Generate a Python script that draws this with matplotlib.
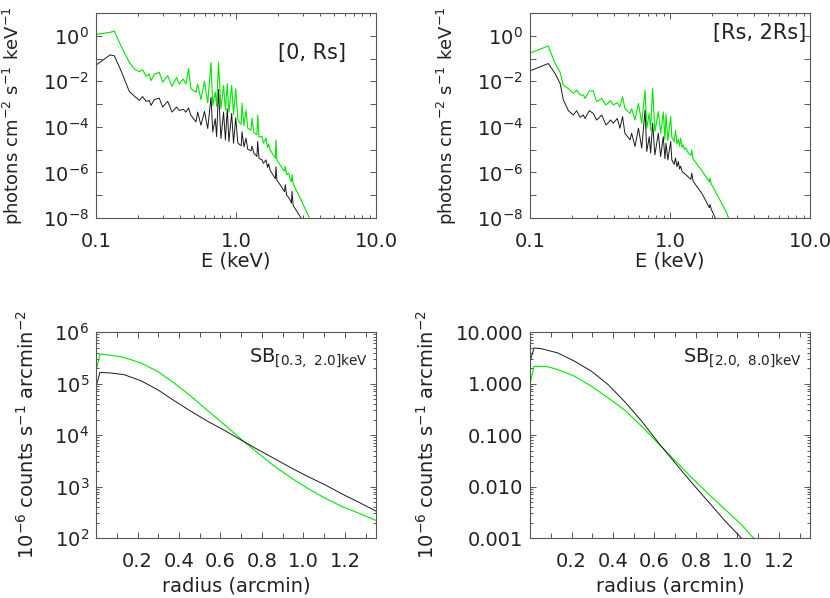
import numpy as np
import matplotlib
matplotlib.use('Agg')
import matplotlib.pyplot as plt
from matplotlib.ticker import FixedLocator, NullLocator, FuncFormatter, LogLocator, MultipleLocator

plt.rcParams['font.family'] = ['DejaVu Sans']
plt.rcParams['mathtext.default'] = 'regular'
plt.rcParams['font.size'] = 14

# ---- spectra, [0, Rs]  (energy in keV, flux given as log10)
tl_energy = [0.100, 0.126, 0.135, 0.151, 0.173, 0.188, 0.204, 0.215, 0.228, 0.240,
             0.247, 0.261, 0.283, 0.299, 0.325, 0.349, 0.376, 0.393, 0.420, 0.439,
             0.458, 0.476, 0.518, 0.532, 0.562, 0.595, 0.628, 0.663, 0.682, 0.711,
             0.727, 0.750, 0.780, 0.815, 0.840, 0.866, 0.890, 0.931, 0.960, 0.995,
             1.03, 1.07, 1.09, 1.104, 1.14, 1.179, 1.212, 1.28, 1.301, 1.34,
             1.41, 1.429, 1.46, 1.534, 1.57, 1.638, 1.68, 1.712, 1.75, 1.91,
             1.93, 1.96, 2.10, 2.22, 2.249, 2.30, 2.378, 2.45, 2.49, 2.512,
             2.56, 2.91, 3.34, 3.60]
tl_green = [0.06, 0.15, 0.20, -0.45, -1.17, -1.46, -1.58, -1.49, -1.78, -1.68,
            -1.97, -1.68, -1.61, -2.04, -1.75, -2.22, -1.83, -2.12, -1.90, -2.12,
            -1.43, -2.33, -2.48, -2.12, -2.80, -2.00, -2.95, -1.17, -3.06, -2.47,
            -3.10, -1.16, -3.20, -2.18, -3.25, -2.11, -3.35, -2.18, -3.45, -2.33,
            -3.65, -3.85, -3.88, -2.97, -3.95, -3.26, -4.05, -4.15, -3.62, -4.25,
            -4.35, -3.48, -4.45, -4.42, -4.72, -4.50, -4.90, -4.75, -5.00, -5.38,
            -4.57, -5.45, -5.75, -5.95, -5.73, -6.10, -6.03, -6.35, -6.40, -6.10,
            -6.50, -7.20, -7.99, -8.50]
tl_black = [-1.29, -0.84, -0.88, -1.54, -2.45, -2.65, -2.84, -2.67, -2.88, -2.84,
            -3.06, -2.80, -2.74, -3.13, -2.88, -3.35, -3.13, -3.28, -3.23, -3.35,
            -3.17, -3.49, -3.78, -3.35, -3.93, -3.32, -4.07, -2.70, -4.22, -3.64,
            -4.43, -2.36, -4.51, -3.35, -4.58, -3.20, -4.65, -3.41, -4.72, -3.60,
            -4.70, -4.80, -4.82, -4.21, -4.88, -4.50, -4.98, -5.05, -4.85, -5.15,
            -5.30, -4.64, -5.38, -5.45, -5.60, -5.45, -5.78, -5.62, -5.90, -6.28,
            -5.75, -6.35, -6.60, -6.85, -6.54, -7.00, -7.10, -7.25, -7.35, -6.83,
            -7.45, -7.99, -8.70, -9.20]

# ---- spectra, [Rs, 2Rs]
tr_energy = [0.100, 0.135, 0.151, 0.164, 0.173, 0.188, 0.204, 0.215, 0.228, 0.240,
             0.247, 0.265, 0.283, 0.299, 0.325, 0.349, 0.376, 0.393, 0.420, 0.439,
             0.458, 0.476, 0.518, 0.532, 0.562, 0.595, 0.628, 0.663, 0.682, 0.711,
             0.727, 0.751, 0.780, 0.825, 0.857, 0.895, 0.920, 0.937, 0.965, 1.011,
             1.03, 1.07, 1.095, 1.12, 1.147, 1.17, 1.19, 1.22, 1.24, 1.27,
             1.30, 1.35, 1.41, 1.43, 1.46, 1.70, 1.91, 1.93, 1.97, 2.20,
             2.54, 2.61, 2.80]
tr_green = [-0.76, -0.45, -1.22, -1.60, -2.17, -2.32, -2.53, -2.39, -2.60, -2.60,
            -2.75, -2.42, -2.42, -2.90, -2.75, -3.04, -2.85, -3.04, -2.94, -3.12,
            -2.68, -3.19, -3.41, -3.20, -3.70, -2.97, -3.84, -2.39, -4.06, -3.41,
            -4.14, -2.32, -4.21, -3.33, -4.28, -3.35, -4.55, -3.45, -4.60, -3.55,
            -4.45, -4.65, -4.14, -4.75, -4.55, -4.85, -4.50, -4.90, -4.79, -5.00,
            -4.93, -5.15, -5.25, -5.01, -5.40, -5.95, -6.42, -6.24, -6.50, -7.05,
            -7.77, -7.99, -8.35]
tr_black = [-1.54, -1.22, -1.66, -2.09, -2.82, -3.29, -3.48, -3.29, -3.58, -3.48,
            -3.63, -3.29, -3.41, -3.70, -3.48, -3.92, -3.70, -3.84, -3.63, -4.06,
            -3.55, -4.28, -4.57, -4.28, -4.86, -4.06, -4.93, -3.26, -5.08, -4.43,
            -5.15, -3.84, -5.23, -4.28, -5.30, -4.43, -5.40, -4.72, -5.45, -4.64,
            -5.45, -5.65, -5.37, -5.75, -5.52, -5.85, -5.73, -5.95, -6.00, -6.05,
            -6.10, -6.20, -6.30, -6.03, -6.38, -6.95, -7.55, -7.41, -7.62, -8.25,
            -8.90, -9.00, -9.40]

# ---- surface brightness profiles (radius in arcmin, SB given as log10)
soft_r_green = [0.003, 0.019, 0.071, 0.135, 0.216, 0.297, 0.377, 0.458, 0.539, 0.619,
                0.708, 0.781, 0.861, 0.942, 1.023, 1.103, 1.184, 1.265, 1.353]
soft_green = [5.288, 5.573, 5.547, 5.508, 5.398, 5.236, 5.010, 4.751, 4.472, 4.201,
              3.890, 3.650, 3.392, 3.165, 2.958, 2.777, 2.615, 2.485, 2.337]
soft_r_black = soft_r_green
soft_black = [4.977, 5.217, 5.204, 5.172, 5.055, 4.880, 4.667, 4.460, 4.265, 4.091,
              3.883, 3.715, 3.540, 3.359, 3.191, 3.036, 2.860, 2.699, 2.518]

hard_r_black = [0.003, 0.019, 0.055, 0.135, 0.216, 0.297, 0.377, 0.458, 0.539, 0.619,
                0.700, 0.781, 0.861, 0.942, 1.019]
hard_black = [0.463, 0.689, 0.676, 0.592, 0.430, 0.236, -0.023, -0.359, -0.735, -1.149,
              -1.544, -1.932, -2.301, -2.676, -3.0]
hard_r_green = [0.003, 0.019, 0.079, 0.135, 0.216, 0.297, 0.377, 0.458, 0.539, 0.619,
                0.700, 0.781, 0.861, 0.942, 1.023, 1.077]
hard_green = [0.042, 0.333, 0.333, 0.269, 0.139, -0.055, -0.282, -0.521, -0.832, -1.168,
              -1.498, -1.835, -2.146, -2.450, -2.754, -3.0]

GREEN = '#00e600'
BLACK = '#1a1a1a'
TXT = '#222222'
AX = '#555555'


def base_style(ax):
    for s in ax.spines.values():
        s.set_color(AX)
        s.set_linewidth(0.8)
    ax.tick_params(which='both', direction='in', top=True, right=True,
                   color=AX, labelcolor=TXT, width=0.7)
    ax.tick_params(which='major', length=4.5)
    ax.tick_params(which='minor', length=2.5)
    ax.tick_params(axis='x', pad=10)
    ax.tick_params(axis='y', pad=5)


def spectrum_axes(ax, energy, green, black, tag, tag_x, tag_y):
    ax.plot(energy, 10 ** np.array(green), color=GREEN, lw=0.8)
    ax.plot(energy, 10 ** np.array(black), color=BLACK, lw=0.7)
    ax.set_xscale('log')
    ax.set_yscale('log')
    ax.set_xlim(0.1, 10)
    ax.set_ylim(1e-8, 10)
    base_style(ax)
    ax.xaxis.set_major_locator(FixedLocator([0.1, 1.0, 10.0]))
    ax.xaxis.set_minor_locator(LogLocator(base=10, subs=np.arange(2, 10)))
    ax.xaxis.set_major_formatter(FuncFormatter(lambda v, p: '%.1f' % v))
    ax.yaxis.set_major_locator(FixedLocator([10.0 ** k for k in range(-8, 1)]))
    ax.yaxis.set_minor_locator(NullLocator())
    ax.yaxis.set_major_formatter(FuncFormatter(
        lambda v, p: '10$^{%d}$' % round(np.log10(v)) if round(np.log10(v)) % 2 == 0 else ''))
    ax.set_xlabel('E (keV)', color=TXT)
    ax.set_ylabel('photons cm$^{-2}$ s$^{-1}$ keV$^{-1}$', color=TXT, fontsize=13)
    ax.xaxis.set_label_coords(0.5, -0.165)
    ax.yaxis.set_label_coords(-0.254, 0.5)
    ax.text(tag_x, tag_y, tag, transform=ax.transAxes, ha='center', va='center',
            color=TXT, fontsize=15)


def profile_axes(ax, rg, g, rb, b, ylim, fmt, tag, label_x):
    ax.plot(rg, 10 ** np.array(g), color=GREEN, lw=0.8)
    ax.plot(rb, 10 ** np.array(b), color=BLACK, lw=0.7)
    ax.set_yscale('log')
    ax.set_xlim(0, 1.35)
    ax.set_ylim(*ylim)
    base_style(ax)
    ax.xaxis.set_major_locator(FixedLocator([0.2, 0.4, 0.6, 0.8, 1.0, 1.2]))
    ax.xaxis.set_minor_locator(MultipleLocator(0.1))
    ax.xaxis.set_major_formatter(FuncFormatter(lambda v, p: '%.1f' % v))
    ax.tick_params(axis='x', which='minor', length=3.5)
    ax.yaxis.set_major_locator(LogLocator(base=10))
    ax.yaxis.set_minor_locator(LogLocator(base=10, subs=np.arange(2, 10)))
    ax.yaxis.set_major_formatter(FuncFormatter(fmt))
    ax.set_xlabel('radius (arcmin)', color=TXT)
    ax.set_ylabel('10$^{-6}$ counts s$^{-1}$ arcmin$^{-2}$', color=TXT)
    ax.xaxis.set_label_coords(0.5, -0.185)
    ax.yaxis.set_label_coords(label_x, 0.5)
    ax.text(0.97, 0.875, tag, transform=ax.transAxes, ha='right', va='center',
            color=TXT, fontsize=14)


fig = plt.figure(figsize=(8.3, 5.98), dpi=100)
ax1 = fig.add_axes([0.1157, 0.6355, 0.3373, 0.3428])
ax2 = fig.add_axes([0.6386, 0.6355, 0.3373, 0.3428])
ax3 = fig.add_axes([0.1157, 0.1003, 0.3373, 0.3445])
ax4 = fig.add_axes([0.6386, 0.1003, 0.3373, 0.3445])

spectrum_axes(ax1, tl_energy, tl_green, tl_black, '[0, Rs]', 0.773, 0.805)
spectrum_axes(ax2, tr_energy, tr_green, tr_black, '[Rs, 2Rs]', 0.819, 0.90)

profile_axes(ax3, soft_r_green, soft_green, soft_r_black, soft_black, (1e2, 1e6),
             lambda v, p: '10$^{%d}$' % round(np.log10(v)),
             'SB$_{[0.3,\\ 2.0]keV}$', -0.207)
profile_axes(ax4, hard_r_green, hard_green, hard_r_black, hard_black, (1e-3, 10),
             lambda v, p: '%.3f' % v,
             'SB$_{[2.0,\\ 8.0]keV}$', -0.33)

fig.savefig('out.png', dpi=100)
